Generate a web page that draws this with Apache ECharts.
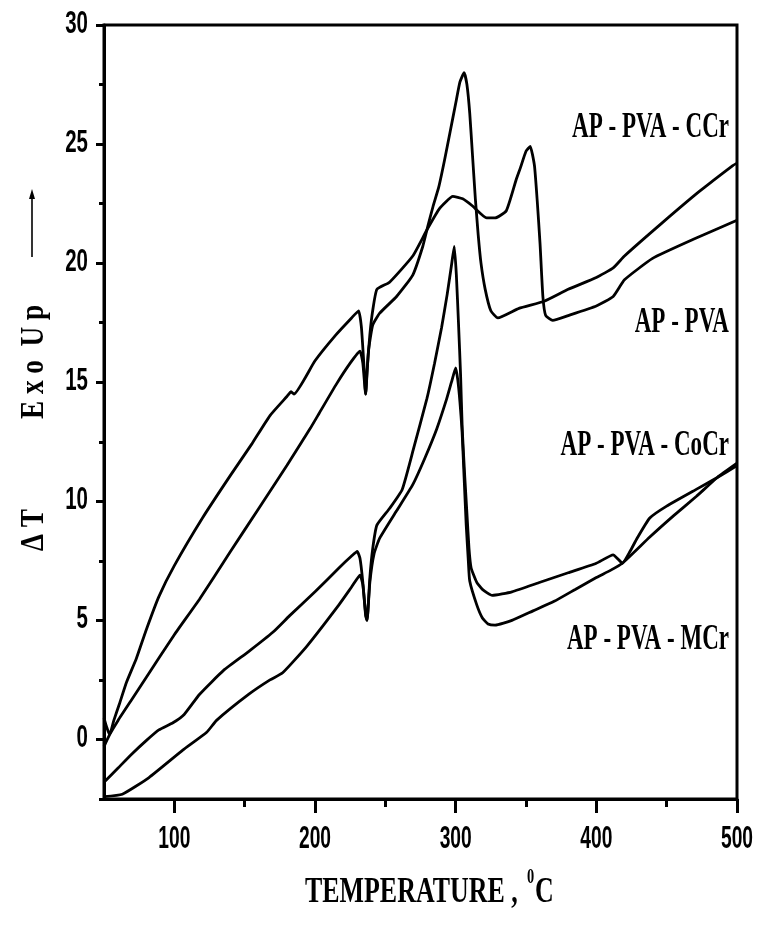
<!DOCTYPE html>
<html>
<head>
<meta charset="utf-8">
<script src="https://cdn.jsdelivr.net/npm/echarts@6/dist/echarts.min.js"></script>
<style>html,body{margin:0;padding:0;background:#fff}#c{width:758px;height:925px}</style>
</head>
<body>
<div id="c"></div>
<script>
// ---- data (temperature °C, ΔT) ----
const ccrT = [50,52,54,57,61,66,73,80,89,100,120,140,155,168,180,183,185,200,215,226,231,233,235,236,238,241,246,258,269.5,276.6,280,284,288,292,296,300,303,306,308,310,312,314,316,318,321,325,330,345,363,380,400,412,420,447,473,497,500];
const ccrV = [0.9,0.5,0.2,0.8,1.5,2.4,3.4,4.6,6.0,7.3,9.3,11.1,12.4,13.6,14.4,14.6,14.5,15.9,17.0,17.7,18.0,17.3,15.5,14.5,16.3,17.4,17.9,18.6,19.5,20.7,21.5,22.4,23.2,24.3,25.5,26.7,27.6,28.0,27.5,26.3,24.5,22.7,21.2,20.0,18.9,18.0,17.7,18.1,18.4,18.9,19.4,19.8,20.3,21.7,23.0,24.1,24.2];

const pvaT = [50,54,60,70,80,100,118,140,160,180,197,203,215,225,232,234,236,237,239,241,244,253,269.5,279.6,288.6,298,305,312,322,328,336,343,346,350,353,356,358,360,362,364,369,380,400,412,420,440,469,500];
const pvaV = [-0.3,0.2,0.8,1.7,2.6,4.4,5.9,7.9,9.7,11.5,13.1,13.7,14.9,15.8,16.3,15.8,14.5,15.5,17.0,18.0,18.9,19.2,20.3,21.4,22.3,22.8,22.7,22.4,21.9,21.9,22.2,23.5,24.0,24.7,24.9,24.1,22.6,20.8,18.6,17.8,17.6,17.8,18.2,18.6,19.3,20.2,21.0,21.8];

const cocrT = [50,60,70,80,89,99,107,118,135,153,170,182,200,217,226,230,232,234,236,237,239,241,244,253,262,270,279.5,285,290,294,297,299,300.5,302,303.5,304.7,306.5,308,309.5,311,315,319,326,340,360,380,400,412,415,418.5,424,429,438,450,471,486,500];
const cocrV = [-1.8,-1.2,-0.6,-0.05,0.4,0.7,1.05,1.9,2.9,3.7,4.5,5.2,6.2,7.2,7.7,7.9,7.6,6.6,5.2,5.0,6.8,8.0,9.0,9.7,10.5,12.2,14.3,15.8,17.3,18.7,19.9,20.7,19.5,17.5,15.3,13.0,11.0,9.5,8.0,7.2,6.6,6.3,6.05,6.2,6.6,7.0,7.4,7.75,7.6,7.4,7.9,8.45,9.3,9.8,10.5,11.0,11.5];

const mcrT = [50,63,82,106,123,130,153,168,177,194,217,226,232,234,236,237,239,242,246,258,269.5,278,286.6,293.6,297,300,301.5,303,304.5,306,307.5,309,310,315,319,323,328,340,355,370,385,400,410,418.5,438,455,471,486,500];
const mcrV = [-2.4,-2.3,-1.6,-0.45,0.3,0.8,1.9,2.5,2.8,3.9,5.65,6.4,6.9,6.5,5.3,5.0,6.6,7.8,8.45,9.6,10.7,11.8,13.05,14.3,15.0,15.6,15.1,14.2,13.0,11.0,9.0,7.5,6.65,5.65,5.1,4.85,4.8,5.0,5.4,5.8,6.3,6.8,7.1,7.4,8.5,9.4,10.2,11.0,11.6];

const seriesNames = ['AP - PVA - CCr','AP - PVA','AP - PVA - CoCr','AP - PVA - MCr'];
const xMajor = [100,200,300,400,500];
const xMinor = [150,250,350,450];
const yMajor = [0,5,10,15,20,25,30];
const yMinor = [-2.5,2.5,7.5,12.5,17.5,22.5,27.5];
const xTitle = 'TEMPERATURE ,';
const yTitleA = 'Δ T';
const yTitleB = 'E x o  U p';

const zip = (t, v) => t.map((x, i) => [x, v[i]]);
const tickFont = "bold 31px 'Liberation Sans', Arial, sans-serif";
const serif = "'Liberation Serif','DejaVu Serif',serif";

const chart = echarts.init(document.getElementById('c'), null, {renderer: 'canvas'});
const axisLineStyle = {color: '#000', width: 3};
const lineSeries = (name, t, v) => ({
  name, type: 'line', data: zip(t, v), showSymbol: false, symbol: 'none',
  lineStyle: {color: '#000', width: 2.8}, smooth: 0.15, animation: false, z: 3
});

const annot = [
  {text: seriesNames[0], y: 128},
  {text: seriesNames[1], y: 323},
  {text: seriesNames[2], y: 446},
  {text: seriesNames[3], y: 640}
];

chart.setOption({
  animation: false,
  backgroundColor: '#fff',
  grid: {left: 104, right: 21, top: 25, bottom: 126, containLabel: false, outerBoundsMode: 'none',
         show: true, borderColor: '#000', borderWidth: 3},
  xAxis: [
    {type: 'value', min: 50, max: 500, position: 'bottom',
     axisLine: {show: true, onZero: false, lineStyle: axisLineStyle},
     axisTick: {show: true, customValues: xMajor, length: 14, lineStyle: {color: '#000', width: 3}},
     axisLabel: {show: false}, splitLine: {show: false}},
    {type: 'value', min: 50, max: 500, position: 'bottom',
     axisLine: {show: false, onZero: false},
     axisTick: {show: true, customValues: xMinor, length: 8, lineStyle: {color: '#000', width: 3}},
     axisLabel: {show: false}, splitLine: {show: false}}
  ],
  yAxis: [
    {type: 'value', min: -2.5, max: 30, position: 'left',
     axisLine: {show: true, onZero: false, lineStyle: axisLineStyle},
     axisTick: {show: true, customValues: yMajor, length: 8, lineStyle: {color: '#000', width: 3}},
     axisLabel: {show: false}, splitLine: {show: false}},
    {type: 'value', min: -2.5, max: 30, position: 'left',
     axisLine: {show: false, onZero: false},
     axisTick: {show: true, customValues: yMinor, length: 5, lineStyle: {color: '#000', width: 3}},
     axisLabel: {show: false}, splitLine: {show: false}}
  ],
  series: [
    lineSeries(seriesNames[0], ccrT, ccrV),
    lineSeries(seriesNames[1], pvaT, pvaV),
    lineSeries(seriesNames[2], cocrT, cocrV),
    lineSeries(seriesNames[3], mcrT, mcrV)
  ]
});

// Tick labels placed through the axes' own scales (narrow glyphs via horizontal scaling)
const xAxisY = chart.convertToPixel({yAxisIndex: 0}, -2.5);
const yAxisX = chart.convertToPixel({xAxisIndex: 0}, 50);
const g = [];
xMajor.forEach(v => {
  g.push({type: 'text', x: chart.convertToPixel({xAxisIndex: 0}, v), y: xAxisY + 40, scaleX: 0.62,
          style: {text: String(v), font: tickFont, fill: '#000', textAlign: 'center', textVerticalAlign: 'middle'}});
});
yMajor.forEach(v => {
  g.push({type: 'text', x: yAxisX - 16, y: chart.convertToPixel({yAxisIndex: 0}, v) - 1, scaleX: 0.66,
          style: {text: String(v), font: tickFont, fill: '#000', textAlign: 'right', textVerticalAlign: 'middle'}});
});
annot.forEach(a => {
  g.push({type: 'text', x: 729, y: a.y, scaleX: 0.64,
          style: {text: a.text, font: 'bold 36px ' + serif, fill: '#000', textAlign: 'right', textVerticalAlign: 'middle'}});
});
g.push(
  {type: 'text', x: 305, y: 893, scaleX: 0.72, style: {text: xTitle, font: 'bold 36px ' + serif, fill: '#000', textAlign: 'left', textVerticalAlign: 'middle'}},
  {type: 'text', x: 527, y: 878, scaleX: 0.72, style: {text: '0', font: 'bold 20px ' + serif, fill: '#000', textAlign: 'left', textVerticalAlign: 'middle'}},
  {type: 'text', x: 535, y: 893, scaleX: 0.72, style: {text: 'C', font: 'bold 36px ' + serif, fill: '#000', textAlign: 'left', textVerticalAlign: 'middle'}},
  {type: 'text', x: 34, y: 530, rotation: Math.PI / 2, scaleX: 0.8, style: {text: yTitleA, font: 'bold 34px ' + serif, fill: '#000', textAlign: 'center', textVerticalAlign: 'middle'}},
  {type: 'text', x: 34, y: 362, rotation: Math.PI / 2, scaleX: 0.8, style: {text: yTitleB, font: 'bold 34px ' + serif, fill: '#000', textAlign: 'center', textVerticalAlign: 'middle'}},
  {type: 'line', shape: {x1: 32, y1: 257, x2: 32, y2: 196}, style: {stroke: '#000', lineWidth: 1.6}},
  {type: 'polygon', shape: {points: [[32, 189], [29, 199], [35, 199]]}, style: {fill: '#000'}}
);
chart.setOption({graphic: g});
</script>
</body>
</html>
